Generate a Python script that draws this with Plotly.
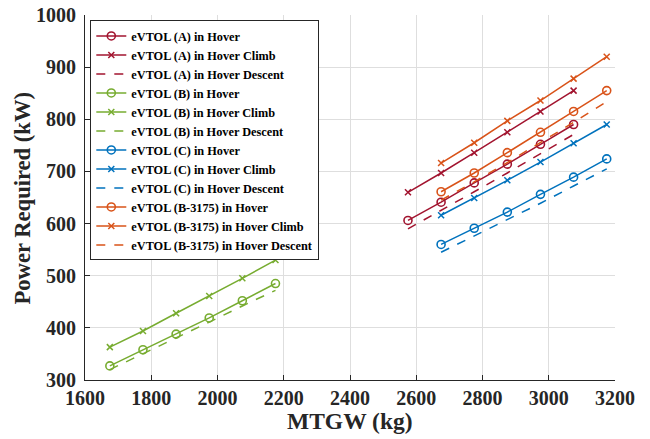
import plotly.graph_objects as go

# MTGW (kg)
x_A = [2575, 2675, 2775, 2875, 2975, 3075]
x_B = [1675, 1775, 1875, 1975, 2075, 2175]
x_C = [2675, 2775, 2875, 2975, 3075, 3175]
x_B3175 = [2675, 2775, 2875, 2975, 3075, 3175]

# Power required (kW)
A_hover = [606, 641, 678, 714, 752, 790]
A_climb = [660, 697, 736, 775, 815, 855]
A_descent = [590, 625, 661, 697, 734, 771]

B_hover = [327, 358, 388, 419, 452, 485]
B_climb = [363, 394, 428, 461, 495, 530]
B_descent = [320, 350, 380, 411, 442, 472]

C_hover = [560, 591, 622, 656, 689, 724]
C_climb = [616, 649, 683, 718, 754, 790]
C_descent = [545, 576, 607, 639, 672, 705]

B3175_hover = [661, 697, 736, 775, 815, 855]
B3175_climb = [716, 755, 797, 836, 878, 920]
B3175_descent = [645, 680, 717, 755, 794, 834]

series = [
    ("eVTOL (A)", x_A, A_hover, A_climb, A_descent, "#A2142F"),
    ("eVTOL (B)", x_B, B_hover, B_climb, B_descent, "#77AC30"),
    ("eVTOL (C)", x_C, C_hover, C_climb, C_descent, "#0072BD"),
    ("eVTOL (B-3175)", x_B3175, B3175_hover, B3175_climb, B3175_descent, "#D95319"),
]

fig = go.Figure()
for name, xs, hov, clb, des, col in series:
    fig.add_trace(go.Scatter(
        x=xs, y=hov, mode="lines+markers", name=f"{name} in Hover",
        line=dict(color=col, width=1.5),
        marker=dict(symbol="circle-open", size=8, color=col, line=dict(width=1.6, color=col))))
    fig.add_trace(go.Scatter(
        x=xs, y=clb, mode="lines+markers", name=f"{name} in Hover Climb",
        line=dict(color=col, width=1.5),
        marker=dict(symbol="x-thin-open", size=6, color=col, line=dict(width=1.5, color=col))))
    fig.add_trace(go.Scatter(
        x=xs, y=des, mode="lines", name=f"{name} in Hover Descent",
        line=dict(color=col, width=1.5, dash="dash")))

ink = "#262626"
title_font_x = dict(family="Liberation Serif", size=23.5, color=ink, weight="bold")
title_font_y = dict(family="Liberation Serif", size=22.6, color=ink, weight="bold")
fig.update_layout(
    width=650, height=439,
    margin=dict(l=85, r=35, t=15, b=59, autoexpand=False),
    paper_bgcolor="white", plot_bgcolor="white",
    font=dict(family="Liberation Serif", color=ink),
    showlegend=True,
    legend=dict(
        x=0.01, y=0.985, xanchor="left", yanchor="top",
        bgcolor="white", bordercolor=ink, borderwidth=1,
        font=dict(family="Liberation Serif", size=12.3, color="black", weight="bold"),
        tracegroupgap=0, itemwidth=30),
    annotations=[
        dict(text="MTGW (kg)", xref="paper", yref="paper", x=0.5, y=-0.112,
             xanchor="center", yanchor="middle", showarrow=False, font=title_font_x),
        dict(text="Power Required (kW)", xref="paper", yref="paper", x=-0.117, y=0.5,
             xanchor="center", yanchor="middle", textangle=-90, showarrow=False, font=title_font_y),
    ],
)
fig.update_xaxes(
    range=[1600, 3200], tickvals=[1600, 1800, 2000, 2200, 2400, 2600, 2800, 3000, 3200],
    showgrid=True, gridcolor="#dedede", gridwidth=1,
    showline=True, linecolor=ink, linewidth=1,
    ticks="inside", ticklen=5, tickcolor=ink,
    tickfont=dict(family="Liberation Serif", size=20, color=ink, weight="bold"),
    zeroline=False, automargin=False)
fig.update_yaxes(
    range=[300, 1000], tickvals=[300, 400, 500, 600, 700, 800, 900, 1000],
    showgrid=True, gridcolor="#dedede", gridwidth=1,
    showline=True, linecolor=ink, linewidth=1,
    ticks="inside", ticklen=5, tickcolor=ink,
    ticklabelstandoff=4,
    tickfont=dict(family="Liberation Serif", size=20, color=ink, weight="bold"),
    zeroline=False, automargin=False)

fig.write_html("out.html", config={"displayModeBar": False},
               post_script="document.body.style.margin='0';")
